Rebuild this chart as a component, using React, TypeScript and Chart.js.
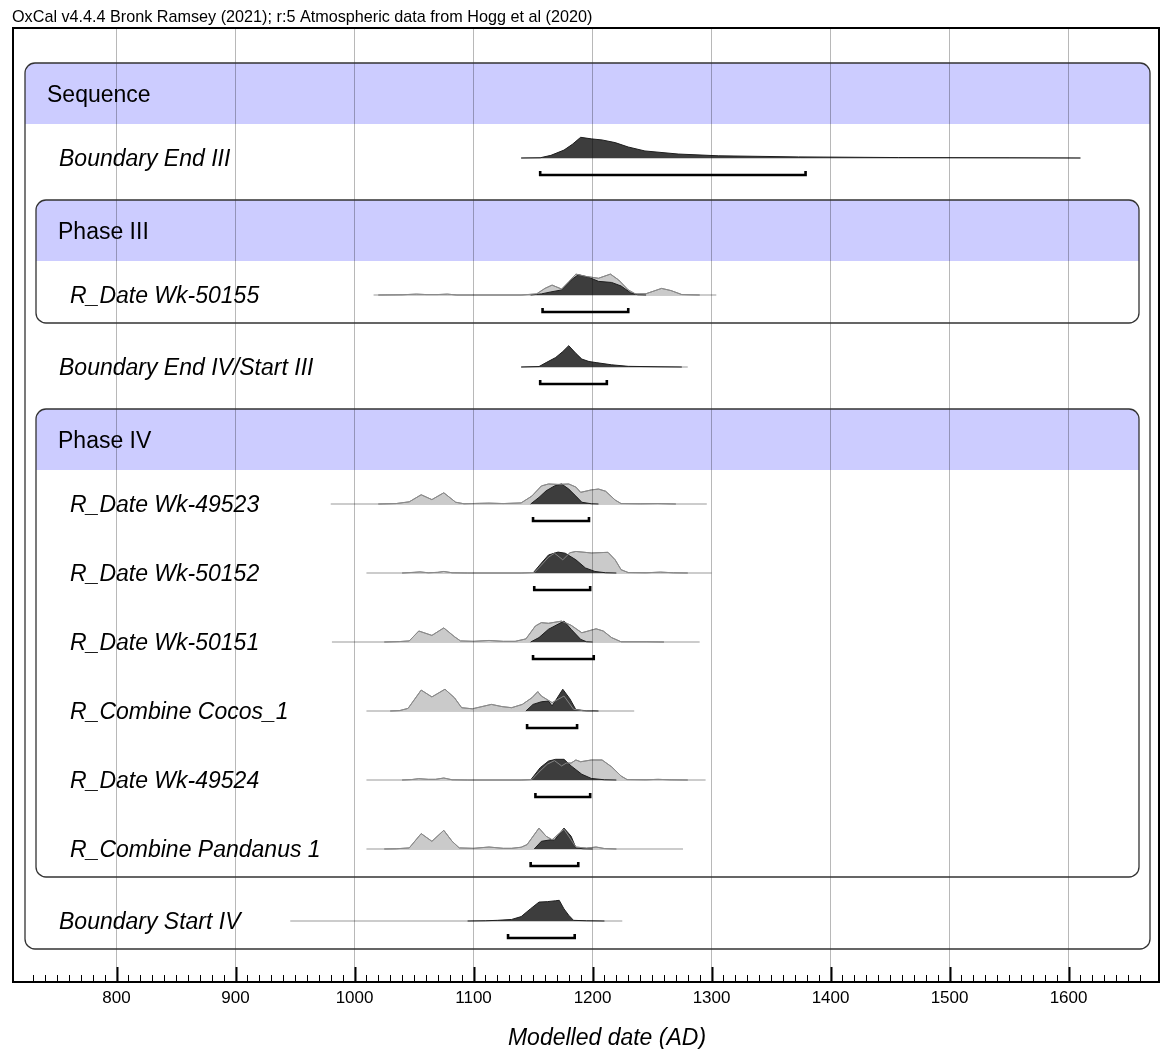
import React, { useEffect, useRef } from 'react';
import { Chart, registerables } from 'chart.js';

Chart.register(...registerables);

const W = 1165;
const H = 1049;
const FONT = '"Liberation Sans", Arial, Helvetica, sans-serif';

// ---- text ----
const titleText = 'OxCal v4.4.4 Bronk Ramsey (2021); r:5 Atmospheric data from Hogg et al (2020)';
const axisTitle = 'Modelled date (AD)';

// ---- axis ----
const xMin = 713;
const xMax = 1676;
const minorStep = 10;
const majorStep = 100;

// ---- item labels (in model order) ----
const itemLabels = [
  'Boundary End III',
  'R_Date Wk-50155',
  'Boundary End IV/Start III',
  'R_Date Wk-49523',
  'R_Date Wk-50152',
  'R_Date Wk-50151',
  'R_Combine Cocos_1',
  'R_Date Wk-49524',
  'R_Combine Pandanus 1',
  'Boundary Start IV',
];

// ---- densities: [year AD, relative probability] ----
const endIII_post = [[1140,0],[1156,0.01],[1165,0.12],[1176,0.36],[1183,0.62],[1190,0.94],[1199,0.87],[1208,0.82],[1219,0.7],[1230,0.5],[1244,0.32],[1272,0.18],[1306,0.1],[1373,0.05],[1457,0.02],[1550,0.01],[1610,0]];

const wk50155_like = [[1020,0],[1040,0.01],[1052,0.04],[1060,0.02],[1070,0.02],[1078,0.04],[1086,0],[1140,0],[1153,0.05],[1160,0.3],[1166,0.45],[1174,0.27],[1180,0.6],[1186,0.95],[1195,0.84],[1205,0.76],[1215,0.95],[1222,0.68],[1230,0.23],[1236,0.05],[1245,0.06],[1258,0.3],[1266,0.2],[1275,0.02],[1290,0]];
const wk50155_post = [[1148,0],[1157,0.05],[1165,0.14],[1174,0.23],[1182,0.68],[1188,0.92],[1197,0.8],[1205,0.62],[1216,0.57],[1224,0.41],[1232,0.1],[1238,0.01],[1245,0]];

const endIV_post = [[1140,0],[1155,0.02],[1161,0.2],[1169,0.43],[1175,0.7],[1180,0.97],[1186,0.62],[1191,0.36],[1197,0.25],[1203,0.2],[1216,0.1],[1230,0.03],[1255,0.01],[1275,0]];

const wk49523_like = [[1020,0],[1035,0.02],[1046,0.1],[1056,0.42],[1065,0.2],[1075,0.51],[1085,0.08],[1092,0.01],[1105,0.03],[1113,0.04],[1125,0.02],[1140,0.05],[1149,0.36],[1157,0.82],[1163,0.91],[1171,0.89],[1180,0.91],[1186,0.77],[1190,0.53],[1199,0.64],[1205,0.68],[1211,0.58],[1219,0.18],[1224,0.02],[1240,0.01],[1255,0.02],[1270,0]];
const wk49523_post = [[1148,0],[1155,0.3],[1161,0.6],[1168,0.82],[1174,0.91],[1180,0.68],[1186,0.36],[1191,0.08],[1199,0.01],[1205,0]];

const wk50152_like = [[1040,0],[1050,0.03],[1055,0.05],[1062,0.01],[1070,0.03],[1075,0.07],[1082,0.01],[1095,0],[1140,0],[1151,0.02],[1157,0.36],[1163,0.72],[1168,0.9],[1175,0.6],[1181,0.92],[1186,0.98],[1199,0.91],[1213,0.94],[1219,0.6],[1224,0.15],[1230,0.02],[1245,0.01],[1257,0.04],[1268,0.01],[1280,0]];
const wk50152_post = [[1150,0],[1157,0.45],[1163,0.82],[1171,0.95],[1177,0.9],[1186,0.6],[1194,0.23],[1202,0.07],[1211,0.01],[1220,0]];

const wk50151_like = [[1025,0],[1038,0.02],[1046,0.05],[1054,0.5],[1065,0.3],[1075,0.64],[1084,0.24],[1089,0.05],[1100,0.03],[1113,0.07],[1125,0.03],[1135,0.03],[1144,0.14],[1152,0.73],[1157,0.88],[1163,0.85],[1174,0.95],[1182,0.76],[1191,0.42],[1203,0.6],[1209,0.5],[1216,0.2],[1224,0.01],[1245,0.01],[1260,0]];
const wk50151_post = [[1148,0],[1155,0.2],[1163,0.58],[1176,0.95],[1182,0.58],[1190,0.12],[1195,0.01],[1200,0]];

const cocos_like = [[1030,0],[1038,0.02],[1045,0.12],[1056,0.95],[1065,0.64],[1076,0.99],[1084,0.6],[1090,0.15],[1099,0.1],[1107,0.2],[1115,0.3],[1124,0.2],[1132,0.15],[1141,0.3],[1149,0.6],[1154,0.88],[1157,0.68],[1166,0.38],[1176,0.68],[1184,0.08],[1192,0.01],[1200,0]];
const cocos_post = [[1144,0],[1150,0.3],[1157,0.42],[1163,0.45],[1166,0.23],[1175,0.99],[1181,0.55],[1186,0.06],[1195,0.01],[1205,0]];

const wk49524_like = [[1040,0],[1048,0.02],[1054,0.06],[1062,0.03],[1068,0.03],[1075,0.09],[1082,0.01],[1095,0],[1140,0],[1149,0.02],[1155,0.36],[1162,0.72],[1168,0.88],[1174,0.64],[1178,0.77],[1182,0.77],[1186,0.91],[1190,0.83],[1199,0.91],[1208,0.91],[1216,0.6],[1224,0.18],[1229,0.02],[1245,0.01],[1255,0.03],[1265,0.01],[1280,0]];
const wk49524_post = [[1148,0],[1156,0.56],[1163,0.86],[1169,0.94],[1176,0.94],[1182,0.64],[1191,0.26],[1199,0.07],[1210,0.01],[1220,0]];

const pandanus_like = [[1025,0],[1035,0.01],[1046,0.05],[1056,0.7],[1065,0.35],[1075,0.85],[1082,0.35],[1088,0.05],[1100,0.03],[1113,0.09],[1125,0.03],[1132,0.03],[1140,0.08],[1145,0.2],[1155,0.95],[1161,0.58],[1166,0.42],[1176,0.9],[1182,0.42],[1186,0.09],[1195,0.04],[1203,0.09],[1210,0.02],[1220,0]];
const pandanus_post = [[1151,0],[1157,0.35],[1165,0.42],[1168,0.4],[1176,0.95],[1182,0.58],[1186,0.05],[1192,0.01],[1200,0]];

const startIV_post = [[1095,0],[1110,0.01],[1120,0.03],[1132,0.07],[1140,0.2],[1148,0.56],[1155,0.86],[1162,0.88],[1169,0.92],[1172,0.94],[1176,0.55],[1180,0.26],[1184,0.03],[1195,0.01],[1210,0]];

// ---- 95.4% ranges [from, to] ----
const ranges95 = [
  [1156, 1379],
  [1158, 1230],
  [1156, 1212],
  [1150, 1197],
  [1151, 1198],
  [1150, 1201],
  [1145, 1187],
  [1152, 1198],
  [1148, 1188],
  [1129, 1185],
];

// ---- extent of each plotted distribution [from, to] ----
const spans = [
  [1140, 1610],
  [1016, 1304],
  [1140, 1280],
  [980, 1296],
  [1010, 1300],
  [981, 1290],
  [1010, 1235],
  [1010, 1295],
  [1010, 1276],
  [946, 1225],
];

const likelihoods = [null, wk50155_like, null, wk49523_like, wk50152_like, wk50151_like, cocos_like, wk49524_like, pandanus_like, null];
const posteriors = [endIII_post, wk50155_post, endIV_post, wk49523_post, wk50152_post, wk50151_post, cocos_post, wk49524_post, pandanus_post, startIV_post];

// ---- model structure ----
type Group = { title: string; children: (number | Group)[] };
const model: Group = {
  title: 'Sequence',
  children: [
    0,
    { title: 'Phase III', children: [1] },
    2,
    { title: 'Phase IV', children: [3, 4, 5, 6, 7, 8] },
    9,
  ],
};

// ---- layout constants (vertical units = pixels from plot top) ----
const PLOT_TOP = 28;
const PLOT_BOTTOM = 982;
const PLOT_LEFT = 13;
const PLOT_RIGHT = 1162;
const Y_RANGE = PLOT_BOTTOM - PLOT_TOP;
const TOP_GAP = 35;
const HEADER_H = 61;
const FIRST_BASE = 34;
const ROW_H = 69;
const BEFORE_BOX = 42;
const AFTER_BOX = 44;
const BOX_BOTTOM = 28;
const AMP = 22;
const BRACKET_OFF = 17;
const BRACKET_TICK = 4;

type Box = { title: string; depth: number; top: number; bottom: number };
type Row = { index: number; depth: number; base: number };

function layoutGroup(g: Group, depth: number, top: number, boxes: Box[], rows: Row[]): number {
  const box: Box = { title: g.title, depth, top, bottom: 0 };
  boxes.push(box);
  const headerBottom = top + HEADER_H;
  let prev: 'header' | 'item' | 'group' = 'header';
  let lastBase = 0;
  let lastBottom = 0;
  for (const c of g.children) {
    if (typeof c === 'number') {
      const base = prev === 'header' ? headerBottom + FIRST_BASE : prev === 'item' ? lastBase + ROW_H : lastBottom + AFTER_BOX;
      rows.push({ index: c, depth, base });
      lastBase = base;
      prev = 'item';
    } else {
      const t = prev === 'header' ? headerBottom + 8 : prev === 'item' ? lastBase + BEFORE_BOX : lastBottom + 8;
      lastBottom = layoutGroup(c, depth + 1, t, boxes, rows);
      prev = 'group';
    }
  }
  box.bottom = prev === 'item' ? lastBase + BOX_BOTTOM : lastBottom + 8;
  return box.bottom;
}

const boxes: Box[] = [];
const rows: Row[] = [];
layoutGroup(model, 0, TOP_GAP, boxes, rows);

function boxLeft(area: any, depth: number) {
  return area.left + 12 + 11 * depth;
}
function boxRight(area: any, depth: number) {
  return area.right - 9 - 11 * depth;
}

function roundRectPath(ctx: CanvasRenderingContext2D, x: number, y: number, w: number, h: number, r: number) {
  ctx.beginPath();
  ctx.moveTo(x + r, y);
  ctx.lineTo(x + w - r, y);
  ctx.arcTo(x + w, y, x + w, y + r, r);
  ctx.lineTo(x + w, y + h - r);
  ctx.arcTo(x + w, y + h, x + w - r, y + h, r);
  ctx.lineTo(x + r, y + h);
  ctx.arcTo(x, y + h, x, y + h - r, r);
  ctx.lineTo(x, y + r);
  ctx.arcTo(x, y, x + r, y, r);
  ctx.closePath();
}

const bandsPlugin = {
  id: 'oxcalBands',
  beforeDraw(chart: any) {
    const { ctx, chartArea } = chart;
    const ys = chart.scales.y;
    ctx.save();
    for (const b of boxes) {
      const x0 = boxLeft(chartArea, b.depth);
      const x1 = boxRight(chartArea, b.depth);
      const y0 = ys.getPixelForValue(b.top);
      const y1 = ys.getPixelForValue(b.bottom);
      const yh = ys.getPixelForValue(b.top + HEADER_H);
      ctx.save();
      roundRectPath(ctx, x0, y0, x1 - x0, y1 - y0, 10);
      ctx.clip();
      ctx.fillStyle = '#ccccff';
      ctx.fillRect(x0, y0, x1 - x0, yh - y0);
      ctx.restore();
    }
    ctx.restore();
  },
};

const overlayPlugin = {
  id: 'oxcalOverlay',
  afterDraw(chart: any) {
    const { ctx, chartArea } = chart;
    const ys = chart.scales.y;
    const xs = chart.scales.x;
    ctx.save();
    // group boxes
    ctx.strokeStyle = '#333';
    ctx.lineWidth = 1.3;
    for (const b of boxes) {
      const x0 = boxLeft(chartArea, b.depth);
      const x1 = boxRight(chartArea, b.depth);
      const y0 = ys.getPixelForValue(b.top);
      const y1 = ys.getPixelForValue(b.bottom);
      roundRectPath(ctx, x0, y0, x1 - x0, y1 - y0, 10);
      ctx.stroke();
    }
    // labels
    ctx.fillStyle = '#000';
    ctx.textAlign = 'left';
    ctx.textBaseline = 'alphabetic';
    ctx.font = `23px ${FONT}`;
    for (const b of boxes) {
      const y = ys.getPixelForValue(b.top + HEADER_H / 2) + 8;
      ctx.fillText(b.title, boxLeft(chartArea, b.depth) + 22, y);
    }
    ctx.font = `italic 23px ${FONT}`;
    for (const r of rows) {
      const y = ys.getPixelForValue(r.base) + 8;
      ctx.fillText(itemLabels[r.index], boxLeft(chartArea, r.depth) + 34, y);
    }
    // frame
    ctx.strokeStyle = '#000';
    ctx.lineWidth = 2;
    ctx.strokeRect(chartArea.left, chartArea.top, chartArea.right - chartArea.left, chartArea.bottom - chartArea.top);
    // tick marks inside the frame
    for (const t of xs.ticks) {
      const v = t.value;
      if (Math.abs(v % minorStep) > 1e-6) continue;
      const major = Math.abs(v % majorStep) < 1e-6;
      const px = Math.round(xs.getPixelForValue(v)) + 0.5;
      ctx.lineWidth = major ? 2 : 1;
      ctx.beginPath();
      ctx.moveTo(px, chartArea.bottom);
      ctx.lineTo(px, chartArea.bottom - (major ? 15 : 7));
      ctx.stroke();
    }
    // header text
    ctx.font = `16.2px ${FONT}`;
    ctx.fillStyle = '#000';
    ctx.fillText(titleText, 12, 22);
    // axis title
    ctx.font = `italic 23px ${FONT}`;
    ctx.textAlign = 'center';
    ctx.fillText(axisTitle, (chartArea.left + chartArea.right) / 2 + 21, chartArea.bottom + 63);
    ctx.restore();
  },
};

function buildDatasets() {
  const ds: any[] = [];
  for (const r of rows) {
    const i = r.index;
    const base = r.base;
    const span = spans[i];
    ds.push({
      data: [{ x: span[0], y: base }, { x: span[1], y: base }],
      borderColor: '#999',
      borderWidth: 1,
      pointRadius: 0,
      fill: false,
      order: 4,
    });
    const like = likelihoods[i];
    if (like) {
      const pts = like.map((p) => ({ x: p[0], y: base - p[1] * AMP }));
      ds.push({
        data: pts,
        borderColor: '#7c7c7c',
        backgroundColor: '#cacaca',
        borderWidth: 1,
        pointRadius: 0,
        fill: { value: base },
        order: 3,
      });
      ds.push({
        data: pts,
        borderColor: 'rgba(140,140,140,0.9)',
        borderWidth: 1,
        pointRadius: 0,
        fill: false,
        order: 1,
      });
    }
    const post = posteriors[i];
    ds.push({
      data: post.map((p) => ({ x: p[0], y: base - p[1] * AMP })),
      borderColor: '#1e1e1e',
      backgroundColor: '#3d3d3d',
      borderWidth: 1,
      pointRadius: 0,
      fill: { value: base },
      order: 2,
    });
    const rg = ranges95[i];
    const yb = base + BRACKET_OFF;
    ds.push({
      data: [
        { x: rg[0], y: yb - BRACKET_TICK },
        { x: rg[0], y: yb },
        { x: rg[1], y: yb },
        { x: rg[1], y: yb - BRACKET_TICK },
      ],
      borderColor: '#000',
      borderWidth: 2.6,
      borderJoinStyle: 'miter',
      borderCapStyle: 'butt',
      pointRadius: 0,
      fill: false,
      order: 0,
    });
  }
  return ds;
}

export default function App() {
  const ref = useRef<HTMLCanvasElement | null>(null);
  useEffect(() => {
    if (!ref.current) return;
    const chart = new Chart(ref.current, {
      type: 'line',
      data: { datasets: buildDatasets() },
      options: {
        animation: false,
        responsive: false,
        devicePixelRatio: window.devicePixelRatio || 1,
        events: [],
        layout: { padding: { left: PLOT_LEFT, right: W - PLOT_RIGHT, top: PLOT_TOP, bottom: 0 } },
        elements: { line: { tension: 0 } },
        plugins: { legend: { display: false }, tooltip: { enabled: false }, title: { display: false } },
        scales: {
          x: {
            type: 'linear',
            min: xMin,
            max: xMax,
            afterFit: (s: any) => {
              s.height = H - PLOT_BOTTOM;
            },
            border: { display: false },
            grid: {
              z: 1,
              drawTicks: false,
              lineWidth: 1,
              color: (c: any) => (c.tick && Math.abs(c.tick.value % majorStep) < 1e-6 ? 'rgba(0,0,0,0.28)' : 'rgba(0,0,0,0)'),
            },
            ticks: {
              stepSize: minorStep,
              autoSkip: false,
              maxRotation: 0,
              padding: 6,
              color: '#000',
              font: { family: FONT, size: 17 },
              callback: (v: any) => (Math.abs(Number(v) % majorStep) < 1e-6 ? String(v) : ''),
            },
          },
          y: {
            type: 'linear',
            display: false,
            reverse: true,
            min: 0,
            max: Y_RANGE,
          },
        },
      } as any,
      plugins: [bandsPlugin, overlayPlugin],
    });
    return () => chart.destroy();
  }, []);
  return (
    <div style={{ position: 'absolute', left: 0, top: 0, width: W, height: H, background: '#fff' }}>
      <canvas ref={ref} width={W} height={H} style={{ width: W, height: H, display: 'block' }} />
    </div>
  );
}
